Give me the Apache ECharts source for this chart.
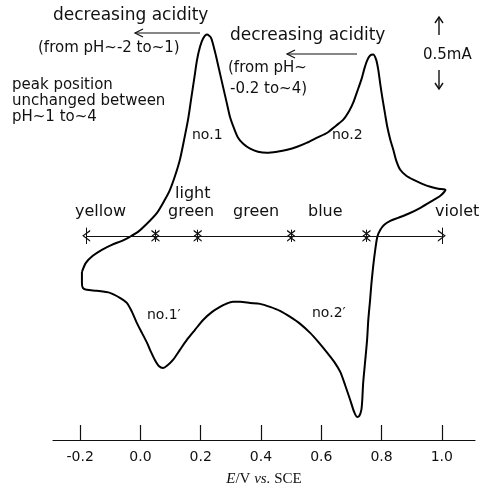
<!DOCTYPE html>
<html>
<head>
<meta charset="utf-8">
<script src="https://cdn.jsdelivr.net/npm/echarts@6/dist/echarts.min.js"></script>
<style>
  html, body { margin: 0; padding: 0; background: #fff; }
  #chart { width: 487px; height: 486px; }
</style>
</head>
<body>
<div id="chart"></div>
<script>
// cyclic voltammogram, one closed loop: forward (anodic) scan on top, reverse below
// potential in V vs. SCE, current in mA (zero taken at the colour band line)
var potential = [
  -0.194, -0.181, -0.158, -0.128, -0.095, -0.061, -0.035, -0.008, 0.018, 0.055,
  0.081, 0.098, 0.115, 0.131, 0.145, 0.158, 0.168, 0.178, 0.188, 0.198,
  0.208, 0.221, 0.234, 0.248, 0.261, 0.274, 0.287, 0.297, 0.311, 0.324,
  0.341, 0.364, 0.390, 0.420, 0.453, 0.487, 0.520, 0.553, 0.586, 0.620,
  0.649, 0.673, 0.693, 0.706, 0.719, 0.733, 0.743, 0.752, 0.762, 0.772,
  0.782, 0.789, 0.796, 0.802, 0.812, 0.819, 0.829, 0.839, 0.849, 0.862,
  0.882, 0.905, 0.935, 0.962, 0.988, 1.012,
  // reverse scan
  0.995, 0.968, 0.929, 0.889, 0.855, 0.829, 0.809, 0.796, 0.786, 0.779,
  0.772, 0.766, 0.762, 0.756, 0.752, 0.746, 0.739, 0.736, 0.733, 0.726,
  0.719, 0.709, 0.696, 0.679, 0.663, 0.643, 0.620, 0.590, 0.563, 0.530,
  0.497, 0.463, 0.430, 0.397, 0.364, 0.331, 0.307, 0.284, 0.264, 0.238,
  0.208, 0.181, 0.154, 0.131, 0.108, 0.091, 0.075, 0.061, 0.048, 0.035,
  0.022, 0.005, -0.012, -0.028, -0.045, -0.068, -0.101, -0.145, -0.178, -0.191,
  -0.194, -0.194
];
var current = [
  -0.265, -0.199, -0.147, -0.103, -0.066, -0.037, -0.007, 0.029, 0.081, 0.169,
  0.265, 0.338, 0.441, 0.559, 0.706, 0.853, 1.000, 1.147, 1.294, 1.390,
  1.449, 1.478, 1.456, 1.346, 1.221, 1.096, 0.971, 0.875, 0.787, 0.721,
  0.676, 0.640, 0.618, 0.610, 0.618, 0.632, 0.654, 0.684, 0.721, 0.757,
  0.809, 0.853, 0.919, 0.978, 1.059, 1.147, 1.228, 1.287, 1.324, 1.331,
  1.294, 1.221, 1.110, 1.022, 0.890, 0.801, 0.706, 0.632, 0.551, 0.485,
  0.441, 0.412, 0.382, 0.360, 0.346, 0.338,
  // reverse scan
  0.294, 0.257, 0.206, 0.162, 0.132, 0.110, 0.081, 0.044, -0.007, -0.103,
  -0.228, -0.360, -0.471, -0.618, -0.765, -0.912, -1.081, -1.206, -1.279, -1.324,
  -1.331, -1.294, -1.206, -1.096, -1.000, -0.926, -0.860, -0.779, -0.713, -0.647,
  -0.596, -0.551, -0.522, -0.500, -0.493, -0.485, -0.485, -0.500, -0.522, -0.559,
  -0.618, -0.691, -0.765, -0.838, -0.912, -0.949, -0.971, -0.956, -0.912, -0.853,
  -0.787, -0.713, -0.640, -0.559, -0.493, -0.456, -0.419, -0.404, -0.397, -0.382,
  -0.346, -0.265
];
// colour change ranges marked on the zero line
var bandEdges = [-0.18, 0.05, 0.19, 0.5, 0.75, 1.0];
var xTicks = [-0.2, 0, 0.2, 0.4, 0.6, 0.8, 1.0];

var chart = echarts.init(document.getElementById('chart'), null, { renderer: 'canvas' });

var loop = potential.map(function (e, k) { return [e, current[k]]; });

// open chevron, drawn pointing up so markLine can turn it along the line
var chevron = 'path://M0,10 L5,0 L10,10 L8.6,10 L5,2.4 L1.4,10 Z';

var bandLines = [];
for (var k = 0; k < bandEdges.length - 1; k++) {
  bandLines.push([{ coord: [bandEdges[k], 0] }, { coord: [bandEdges[k + 1], 0] }]);
}
bandEdges.forEach(function (e, k) {
  var h = (k === 0 || k === bandEdges.length - 1) ? 0.06 : 0.045;
  bandLines.push([{ coord: [e, -h], symbol: 'none' }, { coord: [e, h], symbol: 'none' }]);
});

var font = 'DejaVu Sans';
function txt(x, y, s, size) {
  return {
    type: 'text', left: x, top: y - size * 0.6,
    style: { text: s, fill: '#111', font: size + 'px "' + font + '"' }
  };
}
function arrowLeft(x1, x2, y) {
  return {
    type: 'group',
    children: [
      { type: 'line', shape: { x1: x1, y1: y, x2: x2, y2: y }, style: { stroke: '#111', lineWidth: 1.2 } },
      { type: 'polyline', shape: { points: [[x2 + 8, y - 4], [x2, y], [x2 + 8, y + 4]] }, style: { stroke: '#111', lineWidth: 1.2, fill: null } }
    ]
  };
}
function arrowV(x, yTail, yTip) {
  var d = yTip < yTail ? 6 : -6;
  return {
    type: 'group',
    children: [
      { type: 'line', shape: { x1: x, y1: yTail, x2: x, y2: yTip }, style: { stroke: '#111', lineWidth: 1.4 } },
      { type: 'polyline', shape: { points: [[x - 4, yTip + d], [x, yTip], [x + 4, yTip + d]] }, style: { stroke: '#111', lineWidth: 1.4, fill: null } }
    ]
  };
}

var option = {
  backgroundColor: '#fff',
  animation: false,
  grid: { left: 53, right: 12, top: 18, bottom: 46, outerBoundsMode: 'none' },
  xAxis: {
    type: 'value',
    min: -0.29,
    max: 1.11,
    splitLine: { show: false },
    axisLine: { show: true, onZero: false, lineStyle: { color: '#111', width: 1.2 } },
    axisTick: { show: true, inside: true, length: 15, customValues: xTicks, lineStyle: { color: '#111', width: 1.2 } },
    axisLabel: {
      customValues: xTicks,
      margin: 10,
      color: '#111',
      fontFamily: font,
      fontSize: 14,
      formatter: function (v) { return v.toFixed(1); }
    },
    name: '{i|E}{n|/V }{i|vs.}{n| SCE}',
    nameLocation: 'middle',
    nameGap: 32,
    nameTextStyle: {
      rich: {
        i: { fontFamily: 'Liberation Serif', fontStyle: 'italic', fontSize: 15, color: '#111' },
        n: { fontFamily: 'Liberation Serif', fontSize: 15, color: '#111' }
      }
    }
  },
  yAxis: {
    type: 'value',
    show: false,
    min: -1.5,
    max: 1.6
  },
  series: [{
    type: 'line',
    data: loop,
    showSymbol: false,
    smooth: 0.25,
    lineStyle: { color: '#000', width: 2 },
    markLine: {
      silent: true,
      symbol: [chevron, chevron],
      symbolSize: [12, 8],
      label: { show: false },
      lineStyle: { color: '#111', width: 1, type: 'solid' },
      data: bandLines
    }
  }],
  graphic: [
    txt(53, 17, 'decreasing acidity', 17),
    arrowLeft(200, 135, 33),
    txt(38, 50, '(from pH~-2 to~1)', 15),
    txt(12, 87, 'peak position', 15),
    txt(12, 103, 'unchanged between', 15),
    txt(12, 119, 'pH~1 to~4', 15),
    txt(230, 37, 'decreasing acidity', 17),
    arrowLeft(357, 287, 54),
    txt(228, 70, '(from pH~', 15),
    txt(230, 91, '-0.2 to~4)', 15),
    arrowV(439, 35, 17),
    txt(423, 57, '0.5mA', 15),
    arrowV(439, 70, 89),
    txt(192, 137, 'no.1', 14),
    txt(332, 137, 'no.2', 14),
    txt(175, 195, 'light', 16),
    txt(168, 213, 'green', 16),
    txt(75, 213, 'yellow', 16),
    txt(233, 213, 'green', 16),
    txt(308, 213, 'blue', 16),
    txt(435, 213, 'violet', 16),
    txt(147, 317, 'no.1\u2032', 14),
    txt(312, 315, 'no.2\u2032', 14)
  ]
};

chart.setOption(option);
</script>
</body>
</html>
